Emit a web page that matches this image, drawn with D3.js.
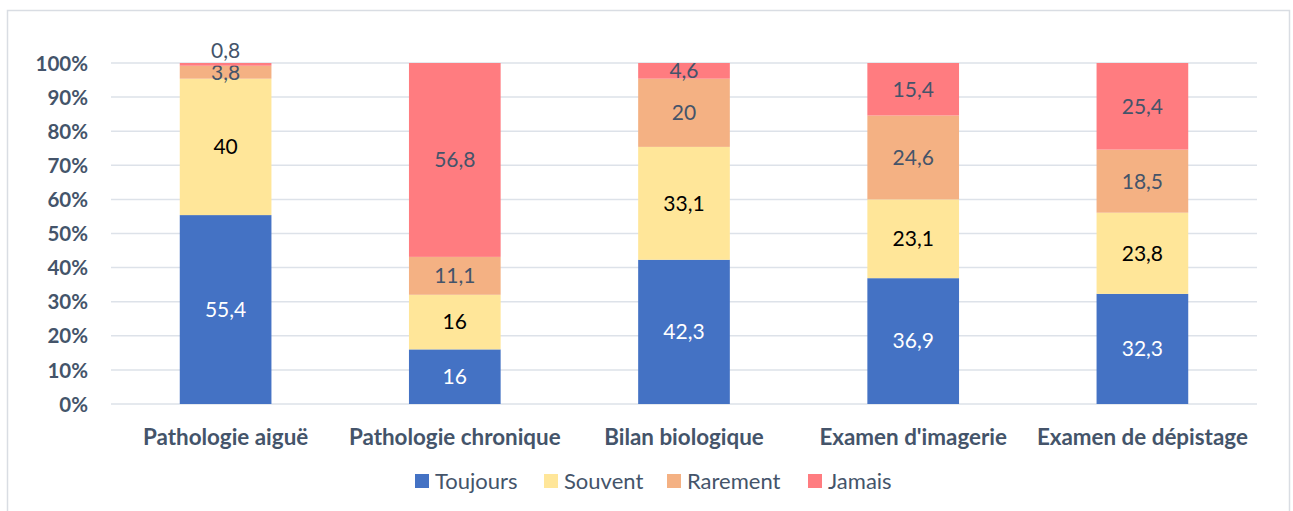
<!DOCTYPE html>
<html>
<head>
<meta charset="utf-8">
<script src="https://cdn.jsdelivr.net/npm/d3@7"></script>
<style>
  body { margin: 0; background: #fff; }
  svg { display: block; }
</style>
</head>
<body>
<svg class="chartSVG" width="1293" height="511"></svg>
<script>
// chart data
const categories = ['Pathologie aiguë', 'Pathologie chronique', 'Bilan biologique', "Examen d'imagerie", 'Examen de dépistage'];
const seriesNames = ['Toujours', 'Souvent', 'Rarement', 'Jamais'];
const toujours = [55.4, 16, 42.3, 36.9, 32.3];
const souvent  = [40, 16, 33.1, 23.1, 23.8];
const rarement = [3.8, 11.1, 20, 24.6, 18.5];
const jamais   = [0.8, 56.8, 4.6, 15.4, 25.4];
const yTicks = [0, 0.1, 0.2, 0.3, 0.4, 0.5, 0.6, 0.7, 0.8, 0.9, 1];

const seriesValues = [toujours, souvent, rarement, jamais];
const colScale = d3.scaleOrdinal()
        .domain(seriesNames)
        .range(['#4472C4', '#FFE699', '#F4B183', '#FF7C80']);
const labelCol = d3.scaleOrdinal()
        .domain(seriesNames)
        .range(['#FFFFFF', '#000000', '#44546A', '#44546A']);

const slate = '#44546A';
const fontFam = "Lato, 'Open Sans', sans-serif";

const svg = d3.select('svg.chartSVG');

// outer frame
svg.append('rect')
    .attr('x', 7.5).attr('y', 10.5)
    .attr('width', 1282).attr('height', 520)
    .style('fill', 'none')
    .style('stroke', '#D9DDE3')
    .style('stroke-width', '1.5px');

// build table for the stack
const table = categories.map((c, i) => {
  const row = {cat: c};
  seriesNames.forEach((s, j) => row[s] = seriesValues[j][i]);
  return row;
});

const stacked = d3.stack()
    .keys(seriesNames)
    .offset(d3.stackOffsetExpand)(table);

const x = d3.scaleBand()
    .domain(categories)
    .range([111, 1257])
    .paddingInner(0.6)
    .paddingOuter(0.3);

const y = d3.scaleLinear()
    .domain([0, 1])
    .range([404, 63]);

// gridlines
svg.append('g').attr('class', 'gridGrp')
  .selectAll('line')
  .data(yTicks)
  .enter()
  .append('line')
    .attr('x1', 111).attr('x2', 1257)
    .attr('y1', d => y(d)).attr('y2', d => y(d))
    .style('stroke', '#DDE2E9')
    .style('stroke-width', '1.5px');

// y axis labels
const yAxis = d3.axisLeft(y)
    .tickValues(yTicks)
    .tickFormat(d3.format('.0%'))
    .tickSize(0)
    .tickPadding(0);

const yAxisGrp = svg.append('g')
    .attr('class', 'yAxis')
    .attr('transform', 'translate(88,0)')
    .call(yAxis);
yAxisGrp.select('.domain').remove();
yAxisGrp.selectAll('text')
    .attr('dy', '0.35em')
    .style('font-family', fontFam)
    .style('font-weight', 700)
    .style('font-size', '20.5px')
    .style('fill', slate);

// x axis labels
const xAxis = d3.axisBottom(x).tickSize(0).tickPadding(0);
const xAxisGrp = svg.append('g')
    .attr('class', 'xAxis')
    .attr('transform', 'translate(0,437)')
    .call(xAxis);
xAxisGrp.select('.domain').remove();
xAxisGrp.selectAll('text')
    .attr('dy', '0.35em')
    .style('font-family', fontFam)
    .style('font-weight', 700)
    .style('font-size', '22.4px')
    .style('fill', slate);

// bars
const serGrps = svg.selectAll('g.serGrp')
    .data(stacked)
    .enter()
    .append('g')
    .attr('class', 'serGrp')
    .style('fill', d => colScale(d.key));

serGrps.selectAll('rect')
    .data(d => d)
    .enter()
    .append('rect')
    .attr('x', d => x(d.data.cat))
    .attr('width', x.bandwidth())
    .attr('y', d => y(d[1]))
    .attr('height', d => y(d[0]) - y(d[1]));

// data labels
serGrps.each(function(s) {
  d3.select(this).selectAll('text')
    .data(s)
    .enter()
    .append('text')
    .attr('x', d => x(d.data.cat) + x.bandwidth() / 2)
    .attr('y', d => {
      const v = d.data[s.key];
      // tiny top segment: Excel pushes label above bar
      if (v < 2) return y(d[1]) - 12;
      return y((d[0] + d[1]) / 2);
    })
    .attr('dy', '0.35em')
    .text(d => String(d.data[s.key]).replace('.', ','))
    .style('text-anchor', 'middle')
    .style('font-family', fontFam)
    .style('font-size', '21px')
    .style('fill', labelCol(s.key));
});

// legend
const legendX = [415, 544, 667, 808];
const legGrps = svg.selectAll('g.legGrp')
    .data(seriesNames)
    .enter()
    .append('g')
    .attr('class', 'legGrp')
    .attr('transform', (d, i) => `translate(${legendX[i]}, 481)`);

legGrps.append('rect')
    .attr('x', 0).attr('y', -7)
    .attr('width', 14).attr('height', 14)
    .style('fill', d => colScale(d));

legGrps.append('text')
    .attr('x', 20)
    .attr('dy', '0.35em')
    .text(d => d)
    .style('font-family', fontFam)
    .style('font-size', '22px')
    .style('fill', slate);
</script>
</body>
</html>
